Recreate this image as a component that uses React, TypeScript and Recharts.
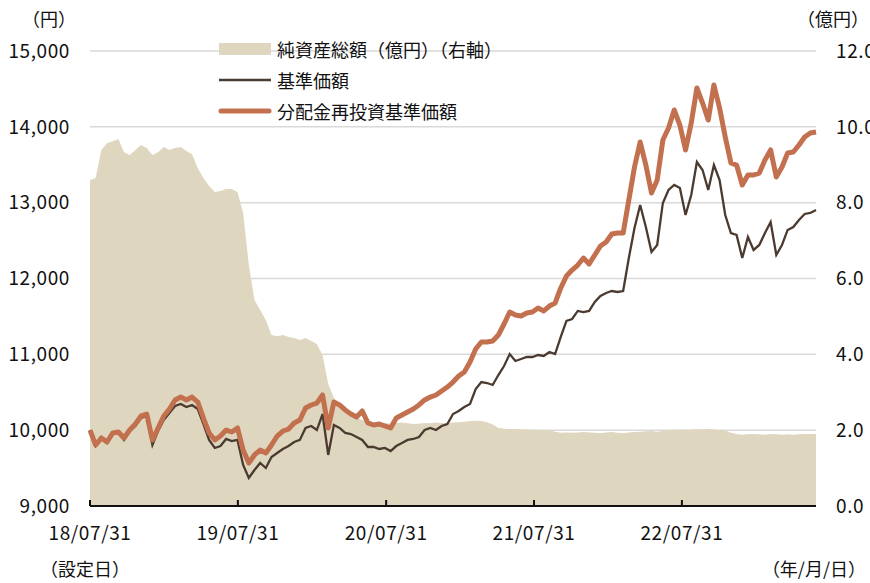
import React from "react";
import {
  ComposedChart,
  Area,
  Line,
  XAxis,
  YAxis,
  CartesianGrid,
} from "recharts";

// biweekly samples from inception (18/07/31)
const nav = [
  10000, 9791, 9884, 9831, 9949, 9963, 9871, 9989, 10055, 10160,
  10187, 9804, 9989, 10134, 10226, 10319, 10345, 10306, 10332, 10279,
  10081, 9871, 9765, 9791, 9884, 9857, 9871, 9541, 9369, 9475,
  9567, 9501, 9646, 9699, 9752, 9791, 9844, 9871, 10029, 10055,
  10002, 10213, 9673, 10068, 10029, 9963, 9949, 9910, 9871, 9778,
  9778, 9752, 9765, 9725, 9791, 9831, 9871, 9884, 9910, 10002,
  10029, 10002, 10055, 10081, 10213, 10253, 10306, 10345, 10543, 10635,
  10622, 10596, 10727, 10846, 11004, 10912, 10938, 10965, 10965, 10991,
  10978, 11031, 11004, 11229, 11440, 11466, 11572, 11558, 11572, 11690,
  11769, 11809, 11835, 11822, 11835, 12270, 12666, 12969, 12679, 12349,
  12442, 12996, 13167, 13233, 13193, 12837, 13101, 13536, 13431, 13167,
  13497, 13299, 12837, 12600, 12574, 12270, 12547, 12376, 12442, 12600,
  12745, 12310, 12442, 12640, 12679, 12771, 12851, 12864, 12903,
];

const reinvest = [
  10000, 9804, 9897, 9844, 9963, 9976, 9897, 10002, 10081, 10187,
  10213, 9871, 10029, 10187, 10279, 10398, 10437, 10398, 10437, 10371,
  10160, 9963, 9871, 9923, 10002, 9976, 10029, 9738, 9567, 9673,
  9738, 9699, 9804, 9923, 9989, 10015, 10095, 10134, 10292, 10332,
  10358, 10464, 10029, 10371, 10332, 10266, 10213, 10174, 10253, 10095,
  10068, 10081, 10055, 10029, 10160, 10200, 10240, 10279, 10332, 10398,
  10437, 10464, 10517, 10569, 10635, 10714, 10767, 10899, 11070, 11163,
  11163, 11176, 11255, 11400, 11558, 11519, 11506, 11545, 11558, 11611,
  11572, 11637, 11677, 11875, 12033, 12112, 12178, 12270, 12191, 12310,
  12429, 12481, 12587, 12600, 12600, 13035, 13470, 13800, 13496, 13128,
  13299, 13826, 13985, 14222, 14024, 13694, 14050, 14512, 14314, 14090,
  14552, 14248, 13866, 13523, 13496, 13233, 13365, 13365, 13391, 13563,
  13695, 13338, 13470, 13655, 13668, 13760, 13866, 13919, 13932,
];

// 純資産総額（億円）
const netAssets = [
  8.6, 8.65, 9.39, 9.57, 9.62, 9.68, 9.33, 9.26, 9.39, 9.52,
  9.44, 9.26, 9.33, 9.47, 9.39, 9.44, 9.47, 9.36, 9.28, 8.91,
  8.65, 8.44, 8.28, 8.31, 8.36, 8.36, 8.28, 7.73, 6.36, 5.43,
  5.17, 4.9, 4.51, 4.48, 4.51, 4.46, 4.43, 4.38, 4.43, 4.35,
  4.27, 3.98, 3.22, 2.85, 2.66, 2.48, 2.4, 2.32, 2.27, 2.22,
  2.18, 2.2, 2.19, 2.17, 2.19, 2.2, 2.18, 2.16, 2.17, 2.19,
  2.18, 2.2, 2.19, 2.18, 2.2, 2.21, 2.22, 2.24, 2.25, 2.24,
  2.21, 2.15, 2.06, 2.04, 2.03, 2.03, 2.02, 2.02, 2.01, 2.01,
  2.0, 2.0, 1.96, 1.93, 1.94, 1.93, 1.94, 1.95, 1.94, 1.93,
  1.92, 1.94, 1.95, 1.93, 1.92, 1.94, 1.95, 1.96, 1.97, 1.98,
  1.96, 1.98, 2.0, 2.02, 2.01, 2.02, 2.01, 2.03, 2.02, 2.04,
  2.02, 2.0, 1.99, 1.93, 1.9, 1.88, 1.89, 1.9, 1.89, 1.88,
  1.9, 1.89, 1.88, 1.89, 1.88, 1.89, 1.9, 1.9, 1.9,
];

const tickDays = [0, 365, 731, 1096, 1461];
const tickLabels = ["18/07/31", "19/07/31", "20/07/31", "21/07/31", "22/07/31"];
const leftTicks = [9000, 10000, 11000, 12000, 13000, 14000, 15000];
const rightTicks = [0, 2, 4, 6, 8, 10, 12];

const data = nav.map((v, i) => ({
  day: i * 14,
  nav: v,
  reinvest: reinvest[i],
  assets: netAssets[i],
}));

const FONT = '"Noto Sans CJK JP", "Noto Sans", sans-serif';
const AREA = "#dfd6bf";
const DARK = "#4b3a2f";
const ORANGE = "#c3704f";
const tickFont = { fontSize: 19, fill: "#111", fontFamily: FONT, letterSpacing: 0.6 };

const XTick = (props: any) => {
  const { x, y, payload } = props;
  const idx = tickDays.indexOf(payload.value);
  return (
    <g>
      <line x1={x} x2={x} y1={y - 6} y2={y} stroke="#111" strokeWidth={2} />
      <text x={x} y={y + 34} textAnchor="middle" {...tickFont}>
        {tickLabels[idx]}
      </text>
    </g>
  );
};

const legendItems = [
  { label: "純資産総額（億円）（右軸）", kind: "area" },
  { label: "基準価額", kind: "nav" },
  { label: "分配金再投資基準価額", kind: "reinvest" },
];

const abs = (left: number, top: number): React.CSSProperties => ({
  position: "absolute",
  left,
  top,
  fontFamily: FONT,
  fontSize: 18,
  color: "#111",
  lineHeight: "20px",
  whiteSpace: "nowrap",
});

export default function App() {
  return (
    <div style={{ position: "absolute", left: 0, top: 0, width: 870, height: 583, background: "#fff", overflow: "hidden" }}>
      <ComposedChart
        width={870}
        height={583}
        data={data}
        margin={{ top: 51, right: 0, bottom: 0, left: 0 }}
      >
        <CartesianGrid yAxisId="left" vertical={false} stroke="#d9d9d9" strokeWidth={1.5} />
        <XAxis
          dataKey="day"
          type="number"
          domain={[0, 1792]}
          ticks={tickDays}
          height={77}
          tickSize={0}
          tickMargin={0}
          tick={<XTick />}
          axisLine={{ stroke: "#111", strokeWidth: 2 }}
          tickLine={false}
        />
        <YAxis
          yAxisId="left"
          domain={[9000, 15000]}
          ticks={leftTicks}
          width={90}
          axisLine={false}
          tickLine={false}
          tickSize={0}
          tickMargin={20}
          tickFormatter={(v: number) => v.toLocaleString("en-US")}
          tick={tickFont}
        />
        <YAxis
          yAxisId="right"
          orientation="right"
          domain={[0, 12]}
          ticks={rightTicks}
          width={54}
          axisLine={false}
          tickLine={false}
          tickSize={0}
          tickMargin={20}
          tickFormatter={(v: number) => v.toFixed(1)}
          tick={{ ...tickFont, textAnchor: "start" }}
        />
        <Area
          yAxisId="right"
          dataKey="assets"
          type="linear"
          stroke="none"
          fill={AREA}
          fillOpacity={1}
          isAnimationActive={false}
        />
        <Line
          yAxisId="left"
          dataKey="nav"
          type="linear"
          stroke={DARK}
          strokeWidth={2.3}
          dot={false}
          isAnimationActive={false}
        />
        <Line
          yAxisId="left"
          dataKey="reinvest"
          type="linear"
          stroke={ORANGE}
          strokeWidth={5}
          strokeLinejoin="round"
          dot={false}
          isAnimationActive={false}
        />
      </ComposedChart>

      {/* axis units */}
      <div style={abs(22, 8)}>（円）</div>
      <div style={abs(797, 8)}>（億円）</div>
      <div style={abs(40, 558)}>（設定日）</div>
      <div style={{ ...abs(0, 558), left: "auto", right: 4 }}>（年/月/日）</div>

      {/* legend */}
      {legendItems.map((item, i) => (
        <div key={item.label} style={{ ...abs(218, 39 + i * 31), display: "flex", alignItems: "center" }}>
          <svg width={54} height={20} style={{ marginRight: 5 }}>
            {item.kind === "area" && <rect x={1} y={4} width={52} height={12} fill={AREA} />}
            {item.kind === "nav" && <line x1={1} x2={53} y1={10} y2={10} stroke={DARK} strokeWidth={2.5} />}
            {item.kind === "reinvest" && (
              <line x1={3} x2={51} y1={10} y2={10} stroke={ORANGE} strokeWidth={5} strokeLinecap="round" />
            )}
          </svg>
          <span>{item.label}</span>
        </div>
      ))}
    </div>
  );
}
